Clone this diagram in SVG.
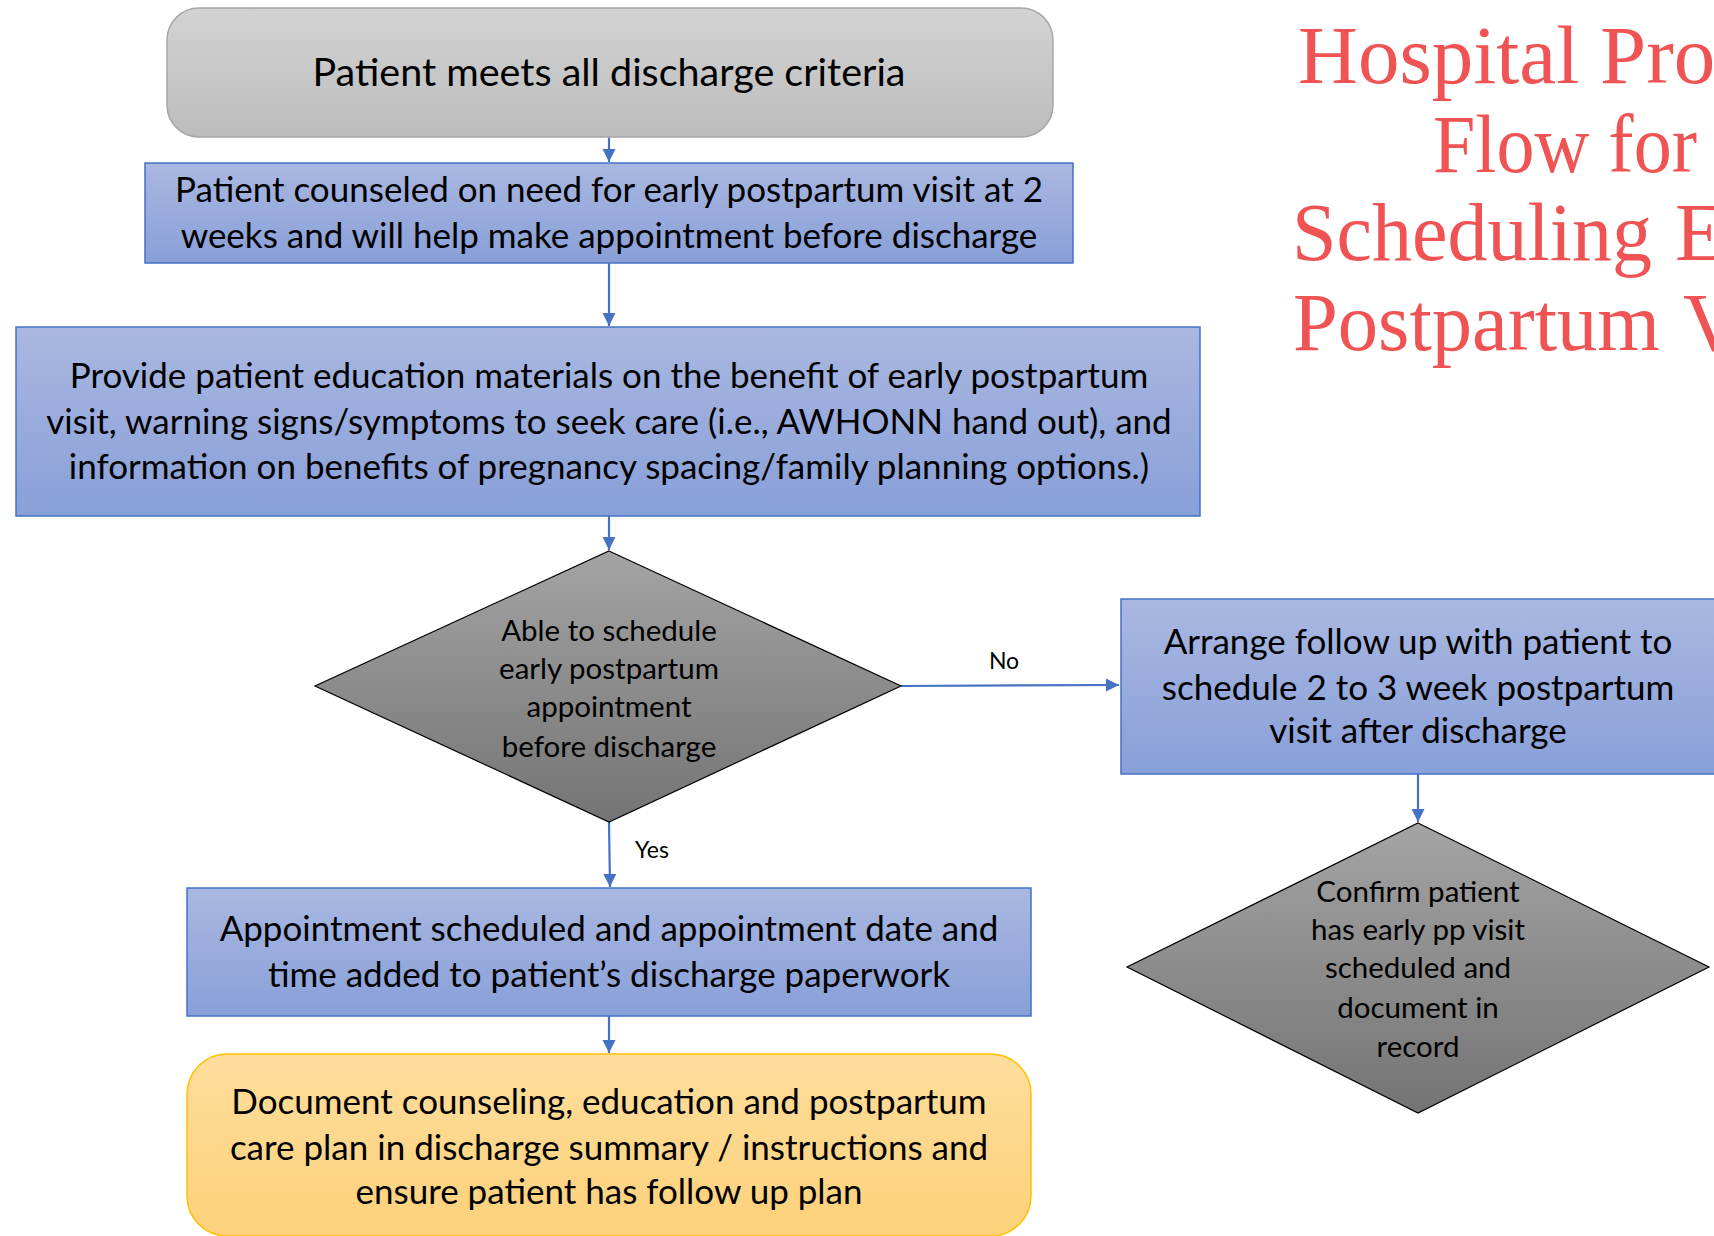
<svg xmlns="http://www.w3.org/2000/svg" width="1714" height="1236" viewBox="0 0 1714 1236">
  <defs>
    <linearGradient id="gGray" x1="0" y1="0" x2="0" y2="1">
      <stop offset="0" stop-color="#d3d3d3"/>
      <stop offset="1" stop-color="#bcbcbc"/>
    </linearGradient>
    <linearGradient id="gBlue" x1="0" y1="0" x2="0" y2="1">
      <stop offset="0" stop-color="#aab8e1"/>
      <stop offset="1" stop-color="#889fd8"/>
    </linearGradient>
    <linearGradient id="gDiamond" x1="0" y1="0" x2="0" y2="1">
      <stop offset="0" stop-color="#a4a4a4"/>
      <stop offset="1" stop-color="#747474"/>
    </linearGradient>
    <linearGradient id="gYellow" x1="0" y1="0" x2="0" y2="1">
      <stop offset="0" stop-color="#fedd9c"/>
      <stop offset="1" stop-color="#fdd17a"/>
    </linearGradient>
    <marker id="arrow" viewBox="0 0 10 10" refX="10" refY="5" markerWidth="6" markerHeight="6" markerUnits="strokeWidth" orient="auto">
      <path d="M0,0 L10,5 L0,10 z" fill="#4472c4"/>
    </marker>
    <style>
      .txt { font-family: Lato, "Liberation Sans", sans-serif; fill: #000; text-anchor: middle; }
      .head { font-size: 39.5px; }
      .big { font-size: 35px; }
      .mid { font-size: 29.5px; }
      .lbl { font-size: 23px; }
      .box { fill: url(#gBlue); stroke: #4472c4; stroke-width: 1.5; }
      .dia { fill: url(#gDiamond); stroke: #000; stroke-width: 1.2; }
      .conn { fill: none; stroke: #4472c4; stroke-width: 2.2; marker-end: url(#arrow); }
      .title { font-family: "Liberation Serif", "DejaVu Serif", serif; font-size: 83px; fill: #ef5353; }
    </style>
  </defs>

  <rect width="1714" height="1236" fill="#ffffff"/>

  <!-- heading, right column; the page edge trims the line ends -->
  <g id="title">
    <text class="title" x="1298" y="83">Hospital Process</text>
    <text class="title" x="1433" y="172" textLength="264" lengthAdjust="spacingAndGlyphs">Flow for</text>
    <text class="title" y="260"><tspan x="1292" textLength="360" lengthAdjust="spacingAndGlyphs">Scheduling</tspan><tspan x="1675">Early</tspan></text>
    <text class="title" y="350"><tspan x="1293" textLength="367" lengthAdjust="spacingAndGlyphs">Postpartum</tspan><tspan x="1683">Visit</tspan></text>
  </g>

  <!-- connectors -->
  <g id="connectors">
    <line class="conn" x1="609" y1="137" x2="609" y2="162"/>
    <line class="conn" x1="609" y1="263" x2="609" y2="326"/>
    <line class="conn" x1="609" y1="516" x2="609" y2="550"/>
    <line class="conn" x1="901" y1="686" x2="1119" y2="685"/>
    <line class="conn" x1="609" y1="822" x2="610" y2="887"/>
    <line class="conn" x1="1418" y1="774" x2="1418" y2="822"/>
    <line class="conn" x1="609" y1="1016" x2="609" y2="1053"/>
    <text class="txt lbl" x="1004" y="669">No</text>
    <text class="txt lbl" x="652" y="858">Yes</text>
  </g>

  <g id="n-criteria">
    <rect x="167" y="8" width="886" height="129" rx="32" fill="url(#gGray)" stroke="#a6a6a6" stroke-width="1.5"/>
    <text class="txt head" x="609" y="86">Patient meets all discharge criteria</text>
  </g>

  <g id="n-counsel">
    <rect class="box" x="145" y="163" width="928" height="100"/>
    <text class="txt big" x="609" y="202">Patient counseled on need for early postpartum visit at 2</text>
    <text class="txt big" x="609" y="248">weeks and will help make appointment before discharge</text>
  </g>

  <g id="n-education">
    <rect class="box" x="16" y="327" width="1184" height="189"/>
    <text class="txt big" x="609" y="388">Provide patient education materials on the benefit of early postpartum</text>
    <text class="txt big" x="609" y="434">visit, warning signs/symptoms to seek care (i.e., AWHONN hand out), and</text>
    <text class="txt big" x="609" y="479">information on benefits of pregnancy spacing/family planning options.)</text>
  </g>

  <g id="n-able">
    <polygon class="dia" points="609,551 901,686 609,822 315,686"/>
    <text class="txt mid" x="609" y="641">Able to schedule</text>
    <text class="txt mid" x="609" y="679">early postpartum</text>
    <text class="txt mid" x="609" y="717">appointment</text>
    <text class="txt mid" x="609" y="757">before discharge</text>
  </g>

  <g id="n-arrange">
    <rect class="box" x="1121" y="599" width="610" height="175"/>
    <text class="txt big" x="1418" y="654">Arrange follow up with patient to</text>
    <text class="txt big" x="1418" y="700">schedule 2 to 3 week postpartum</text>
    <text class="txt big" x="1418" y="743">visit after discharge</text>
  </g>

  <g id="n-confirm">
    <polygon class="dia" points="1418,823 1709,967 1418,1113 1127,967"/>
    <text class="txt mid" x="1418" y="902">Confirm patient</text>
    <text class="txt mid" x="1418" y="940">has early pp visit</text>
    <text class="txt mid" x="1418" y="978">scheduled and</text>
    <text class="txt mid" x="1418" y="1018">document in</text>
    <text class="txt mid" x="1418" y="1057">record</text>
  </g>

  <g id="n-scheduled">
    <rect class="box" x="187" y="888" width="844" height="128"/>
    <text class="txt big" x="609" y="941">Appointment scheduled and appointment date and</text>
    <text class="txt big" x="609" y="987">time added to patient’s discharge paperwork</text>
  </g>

  <g id="n-document">
    <rect x="187" y="1054" width="844" height="182" rx="40" fill="url(#gYellow)" stroke="#ffc000" stroke-width="1.5"/>
    <text class="txt big" x="609" y="1114">Document counseling, education and postpartum</text>
    <text class="txt big" x="609" y="1160">care plan in discharge summary / instructions and</text>
    <text class="txt big" x="609" y="1204">ensure patient has follow up plan</text>
  </g>
</svg>
